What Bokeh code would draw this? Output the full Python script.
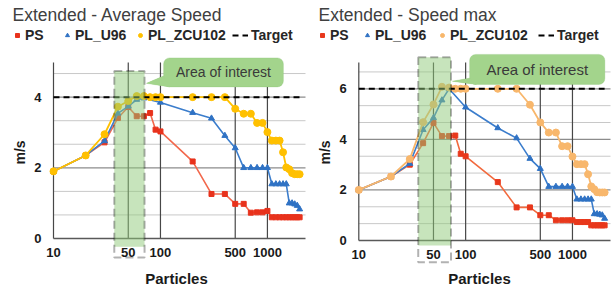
from math import log10, pi
from bokeh.plotting import figure
from bokeh.models import (Range1d, BoxAnnotation, PolyAnnotation, Label,
                          Legend, LegendItem)
from bokeh.layouts import row
from bokeh.embed import file_html
from bokeh.resources import INLINE
from bokeh.core.properties import value

# ---------------- data ----------------
X_ALL = [10, 20, 30, 40, 50, 60, 70, 80, 90, 100, 200, 300, 400, 500, 600, 700,
         800, 900, 1000, 1100, 1200, 1300, 1400, 1500, 1600, 1700, 1800, 1900, 2000]
X_U96 = [10, 20, 30, 40, 50, 60, 70, 100, 200, 300, 400, 500, 600, 700,
         800, 900, 1000, 1100, 1200, 1300, 1400, 1500, 1600, 1700, 1800, 1900, 2000]

# Average speed (m/s)
PS_AVG = [1.9, 2.35, 2.72, 3.41, 3.72, 3.46, 3.46, 3.55, 3.08, 3.03, 2.18, 1.26, 1.26,
          0.98, 0.98, 0.73, 0.74, 0.74, 0.78, 0.6, 0.6, 0.6, 0.6, 0.6, 0.6, 0.6, 0.6, 0.6, 0.6]
U96_AVG = [1.9, 2.35, 2.76, 3.54, 3.74, 3.93, 3.97, 3.85, 3.56, 3.40, 2.91, 2.56, 2.0,
           2.0, 2.0, 2.0, 2.0, 1.54, 1.54, 1.54, 1.54, 1.54, 1.0, 1.0, 0.97, 0.93, 0.83]
ZCU_AVG = [1.9, 2.35, 2.95, 3.73, 3.89, 4.03, 4.03, 4.0, 4.0, 4.0, 4.0, 4.0, 4.0, 3.67,
           3.53, 3.53, 3.27, 3.27, 3.01, 2.77, 2.77, 2.77, 2.44, 2.01, 1.96, 1.85, 1.82, 1.82, 1.82]
TARGET_AVG = 4.0

# Max speed (m/s)
PS_MAX = [2.0, 2.53, 3.0, 3.85, 4.65, 4.13, 4.13, 4.15, 3.43, 3.33, 2.31, 1.31, 1.31,
          1.0, 1.0, 0.8, 0.8, 0.8, 0.8, 0.73, 0.73, 0.73, 0.73, 0.6, 0.6, 0.6, 0.6, 0.6, 0.6]
U96_MAX = [2.0, 2.53, 3.04, 4.38, 4.85, 5.55, 6.0, 5.27, 4.45, 4.05, 3.24, 2.84, 2.13,
           2.13, 2.13, 2.13, 2.13, 1.63, 1.63, 1.63, 1.63, 1.63, 1.05, 1.05, 1.03, 1.0, 0.87]
ZCU_MAX = [2.0, 2.53, 3.22, 4.68, 5.38, 6.08, 6.05, 6.0, 6.0, 6.0, 6.0, 6.0, 5.37, 4.67,
           4.27, 4.27, 3.73, 3.73, 3.32, 3.02, 3.02, 3.02, 2.62, 2.14, 2.03, 1.91, 1.9, 1.9, 1.9]
TARGET_MAX = 6.0

XTICKS = [10, 50, 100, 500, 1000]
XTICK_LABELS = ["10", "50", "100", "500", "1000"]
X_MIN, X_MAX = 10, 2270
YGRID_AVG = [0.667, 1.333, 2.667, 3.333, 4.667]
YTICKS_AVG = [0, 2, 4]
YTICK_LABELS_AVG = ["0", "2", "4"]
YGRID_MAX = [0.667, 1.333, 2.667, 3.333, 4.667, 5.333, 6.667]
YTICKS_MAX = [0, 2, 4, 6]
YTICK_LABELS_MAX = ["0", "2", "4", "6"]

SERIES_NAMES = ["PS", "PL_U96", "PL_ZCU102", "Target"]
TITLES = ["Extended - Average Speed", "Extended - Speed max"]
X_LABEL = "Particles"
Y_LABEL = "m/s"
CALLOUT_TEXT = "Area of interest"

FONT = "Liberation Sans"
H = 287           # figure height
YTOP_PX = 62      # pixel row (from top) of the top of the plotting area


def make_chart(cfg):
    W = cfg["width"]
    # ranges computed from the pixel layout (frame == whole canvas)
    d = (cfg["xmax_px"] - cfg["x10_px"]) / (log10(X_MAX) - log10(X_MIN))
    xr = Range1d(10 ** (log10(X_MIN) - cfg["x10_px"] / d),
                 10 ** (log10(X_MAX) + (W - cfg["xmax_px"]) / d))
    y0_px = cfg["y0_px"]
    ppu = (y0_px - YTOP_PX) / cfg["ymax"]
    yr = Range1d(-(H - y0_px) / ppu, cfg["ymax"] + YTOP_PX / ppu)

    p = figure(width=W, height=H, x_axis_type="log", x_range=xr, y_range=yr,
               output_backend="svg", toolbar_location=None,
               x_axis_location=None, y_axis_location=None, title_location=None,
               min_border=0)
    p.outline_line_color = None
    p.xgrid.visible = False
    p.ygrid.visible = False

    ymax = cfg["ymax"]
    n_g = len(cfg["ygrid"])
    # minor horizontal gridlines
    p.segment(x0=[X_MIN] * n_g, x1=[X_MAX] * n_g, y0=cfg["ygrid"], y1=cfg["ygrid"],
              line_color="#c8c8c8", line_width=1)
    # labelled horizontal gridlines
    yt = cfg["yticks"][1:]
    p.segment(x0=[X_MIN] * len(yt), x1=[X_MAX] * len(yt), y0=yt, y1=yt,
              line_color="#8c8c8c", line_width=1.3)
    # vertical gridlines
    p.segment(x0=XTICKS, x1=XTICKS, y0=[0] * len(XTICKS), y1=[ymax] * len(XTICKS),
              line_color="#474747", line_width=1.2)
    # x axis line
    p.segment(x0=[X_MIN], x1=[X_MAX], y0=[0], y1=[0], line_color="#595959",
              line_width=1.6)

    # tick labels
    p.text(x=XTICKS, y=[0] * len(XTICKS), text=XTICK_LABELS, y_offset=9,
           text_align="center", text_baseline="top", text_font=value(FONT),
           text_font_style="bold", text_font_size=value("13px"),
           text_color="#1a1a1a")
    p.text(x=[X_MIN] * len(cfg["yticks"]), y=cfg["yticks"], text=cfg["ylabels"],
           x_offset=-12, text_align="right", text_baseline="middle",
           text_font=value(FONT), text_font_style="bold",
           text_font_size=value("13px"), text_color="#1a1a1a")

    # series
    p.line(X_ALL, cfg["ps"], line_color=cfg["ps_line"], line_width=1.6)
    r_ps = p.scatter(X_ALL, cfg["ps"], marker="square", size=5,
                     fill_color=cfg["ps_mark"], line_color=cfg["ps_mark"])
    p.line(X_U96, cfg["u96"], line_color="#3b7dcc", line_width=1.6)
    r_u = p.scatter(X_U96, cfg["u96"], marker="triangle", size=6,
                    fill_color="#2f72c4", line_color="#2f72c4")
    p.line(X_ALL, cfg["zcu"], line_color=cfg["zcu_col"], line_width=1.8)
    r_z = p.scatter(X_ALL, cfg["zcu"], marker="circle", size=7,
                    fill_color=cfg["zcu_col"], line_color=cfg["zcu_col"])
    r_t = p.line(X_ALL, [cfg["target"]] * len(X_ALL), line_color="black",
                 line_width=2, line_dash="6 4")

    # area of interest
    bx0, bx1, bfill, bbot, btop = cfg["box"]
    p.add_layout(BoxAnnotation(left=bx0, right=bx1, bottom=bfill, top=btop,
                               fill_color="#8fc97a", fill_alpha=0.5,
                               line_color=None))
    p.add_layout(BoxAnnotation(left=bx0, right=bx1, bottom=bbot, top=btop,
                               fill_alpha=0, line_color="black", line_width=2,
                               line_dash="8 4"))
    cx0, cx1, cy0, cy1 = cfg["callout"]
    p.add_layout(PolyAnnotation(xs=cfg["tail_x"], ys=cfg["tail_y"],
                                fill_color="#a3d48c", fill_alpha=1.0,
                                line_color="#8cc476", line_width=1))
    p.add_layout(BoxAnnotation(left=cx0, right=cx1, bottom=cy0, top=cy1,
                               fill_color="#a3d48c", fill_alpha=1.0,
                               line_color="#8cc476", line_width=1,
                               border_radius=6))
    p.add_layout(PolyAnnotation(xs=cfg["tail_x"], ys=cfg["tail_y"],
                                fill_color="#a3d48c", fill_alpha=1.0,
                                line_color=None))
    p.add_layout(Label(x=(cx0 * cx1) ** 0.5, y=(cy0 + cy1) / 2, text=CALLOUT_TEXT,
                       text_align="center", text_baseline="middle",
                       text_font=FONT, text_font_size=cfg["callout_fs"],
                       text_color="#3a3a3a"))

    # title and axis titles (screen units, measured from bottom-left)
    p.add_layout(Label(x=cfg["title_x"], y=H - 4, x_units="screen", y_units="screen",
                       text=cfg["title"], text_font=FONT, text_font_size="17.5px",
                       text_color="#404040", text_baseline="top"))
    p.add_layout(Label(x=cfg["xlabel_x"], y=H - 269, x_units="screen",
                       y_units="screen", text=X_LABEL, text_font=FONT,
                       text_font_size="15px", text_font_style="bold",
                       text_color="#1a1a1a", text_align="center",
                       text_baseline="top"))
    p.add_layout(Label(x=cfg["ylabel_x"], y=H - 152, x_units="screen",
                       y_units="screen", angle=pi / 2, text=Y_LABEL,
                       text_font=FONT, text_font_size="14px",
                       text_font_style="bold", text_color="#1a1a1a",
                       text_align="center", text_baseline="middle"))

    # legend: one small legend per entry so each sits where the reference has it
    renderers = [r_ps, r_u, r_z, r_t]
    for name, rend, lx in zip(SERIES_NAMES, renderers, cfg["legend_x"]):
        gw = 16 if name == "Target" else 10
        leg = Legend(items=[LegendItem(label=name, renderers=[rend])],
                     location=(lx, H - 43), glyph_width=gw, glyph_height=12,
                     label_standoff=3, padding=0, margin=0,
                     border_line_color=None, background_fill_alpha=0,
                     label_text_font=FONT, label_text_font_style="bold",
                     label_text_font_size="14px", label_text_color="#262626",
                     label_height=16)
        p.add_layout(leg, "center")
    return p


left = make_chart(dict(
    width=307, x10_px=53, xmax_px=305, y0_px=238, ymax=4.98,
    yticks=YTICKS_AVG, ylabels=YTICK_LABELS_AVG, ygrid=YGRID_AVG,
    ps=PS_AVG, u96=U96_AVG, zcu=ZCU_AVG, target=TARGET_AVG,
    ps_line="#f2684c", ps_mark="#e8321c", zcu_col="#ffc000",
    box=(37, 71, -0.23, -0.54, 4.74), callout=(107, 1410, 4.29, 5.11),
    tail_x=[107, 122, 74], tail_y=[4.6, 4.29, 4.39], callout_fs="14px",
    title=TITLES[0], title_x=12, xlabel_x=176, ylabel_x=19,
    legend_x=[12, 62, 135, 232]))

right = make_chart(dict(
    width=307, x10_px=51.3, xmax_px=303, y0_px=240, ymax=7.04,
    yticks=YTICKS_MAX, ylabels=YTICK_LABELS_MAX, ygrid=YGRID_MAX,
    ps=PS_MAX, u96=U96_MAX, zcu=ZCU_MAX, target=TARGET_MAX,
    ps_line="#f26a3e", ps_mark="#e8381c", zcu_col="#f8b76c",
    box=(36, 73, -0.2, -0.86, 7.25), callout=(109, 2010, 6.17, 7.36),
    tail_x=[109, 126, 75], tail_y=[6.42, 6.17, 6.3], callout_fs="15px",
    title=TITLES[1], title_x=11, xlabel_x=172, ylabel_x=17,
    legend_x=[10, 55, 130, 231]))

layout = row(left, right)
open("out.html", "w").write(file_html(layout, INLINE))
